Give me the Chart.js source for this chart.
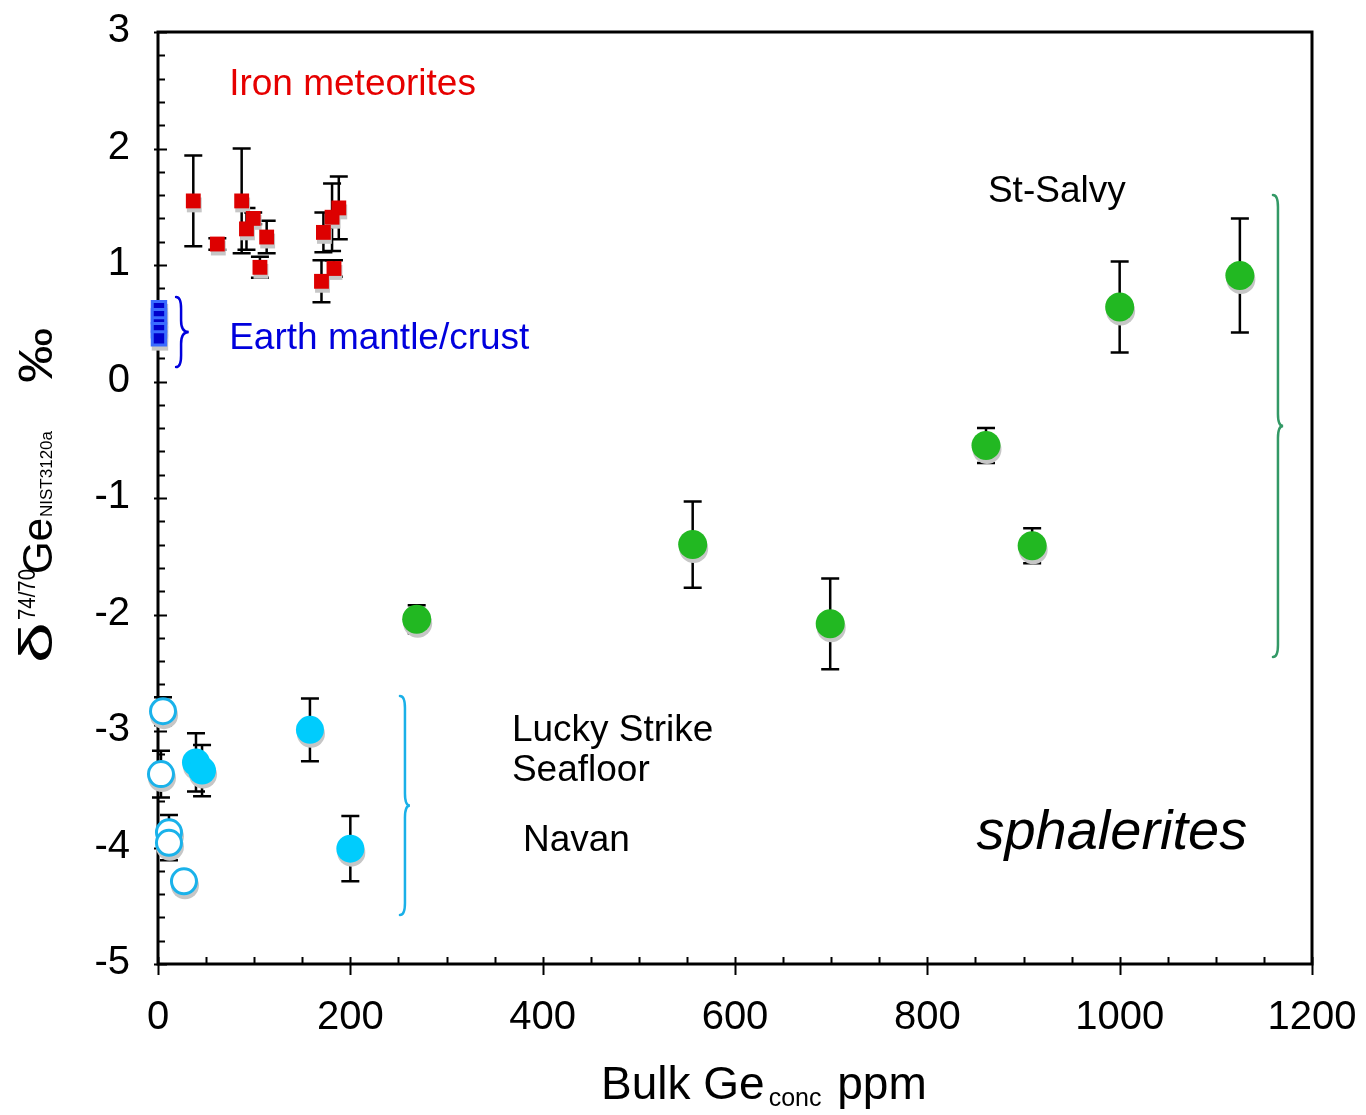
<!DOCTYPE html>
<html>
<head>
<meta charset="utf-8">
<script src="https://cdn.jsdelivr.net/npm/chart.js@4.4.1/dist/chart.umd.min.js"></script>
<style>
  body { margin: 0; background: #fff; }
  canvas { display: block; }
</style>
</head>
<body>
<canvas id="myChart" width="1366" height="1115"></canvas>
<script>
const FONT = '"Liberation Sans", Arial, Helvetica, sans-serif';

// axis ticks
const xTicks = [0, 200, 400, 600, 800, 1000, 1200];
const yTicks = [3, 2, 1, 0, -1, -2, -3, -4, -5];

// Iron meteorites
const ironX = [36.7, 61.7, 87, 99, 92, 113, 106, 170, 172, 181, 183, 188];
const ironY = [1.55, 1.18, 1.55, 1.40, 1.31, 1.24, 0.98, 0.86, 1.28, 1.41, 0.97, 1.49];
const ironErr = [0.39, 0.05, 0.45, 0.05, 0.18, 0.14, 0.09, 0.18, 0.17, 0.29, 0.07, 0.27];

// Earth mantle / crust
const mantleX = [1, 1, 1, 1, 1];
const mantleY = [0.63, 0.56, 0.49, 0.44, 0.37];

// Lucky Strike / Seafloor (open) and Navan (filled)
const openX = [5.2, 3.1, 11.4, 11.4, 27];
const openY = [-2.83, -3.37, -3.87, -3.96, -4.29];
const openErr = [0.12, 0.2, 0.15, 0.15, 0];
const navanX = [39.5, 45.8, 158, 200];
const navanY = [-3.27, -3.34, -2.99, -4.01];
const navanErr = [0.25, 0.22, 0.27, 0.28];

// St-Salvy
const salvyX = [269, 556, 699, 861, 909, 1000, 1125];
const salvyY = [-2.04, -1.40, -2.08, -0.55, -1.41, 0.64, 0.91];
const salvyErr = [0.12, 0.37, 0.39, 0.15, 0.15, 0.39, 0.49];

function pts(xs, ys) {
  return xs.map((v, i) => ({x: v, y: ys[i]}));
}

// annotations (data coordinates)
const notes = [
  {text: 'Iron meteorites', x: 74, y: 2.46, size: 37, color: '#e60000'},
  {text: 'Earth mantle/crust', x: 74, y: 0.28, size: 37, color: '#0000dd'},
  {text: 'St-Salvy', x: 863, y: 1.54, size: 37, color: '#000'},
  {text: 'Lucky Strike', x: 368, y: -3.09, size: 37, color: '#000'},
  {text: 'Seafloor', x: 368, y: -3.43, size: 37, color: '#000'},
  {text: 'Navan', x: 379.5, y: -4.03, size: 37, color: '#000'},
  {text: 'sphalerites', x: 851, y: -4.01, size: 56, color: '#000', italic: true}
];
const braces = [
  {x: 24, tip: 32, top: 0.725, bottom: 0.124, color: '#0000dd'},
  {x: 256.8, tip: 262, top: -2.70, bottom: -4.58, color: '#1ab0e8'},
  {x: 1164.6, tip: 1170, top: 1.60, bottom: -2.365, color: '#339966'}
];

const axesPlugin = {
  id: 'axes',
  beforeDatasetsDraw(chart) {
    const {ctx, chartArea: a, scales: {x, y}} = chart;
    ctx.save();
    ctx.strokeStyle = '#000';
    ctx.lineWidth = 3;
    ctx.strokeRect(a.left, a.top, a.right - a.left, a.bottom - a.top);
    ctx.lineWidth = 2;
    ctx.beginPath();
    for (let i = 0; i <= 24; i++) {
      const px = Math.round(x.getPixelForValue(i * 50)) + 0.5;
      if (i % 4 === 0) {
        ctx.moveTo(px, a.bottom - 7);
        ctx.lineTo(px, a.bottom + 11);
      } else {
        ctx.moveTo(px, a.bottom - 7);
        ctx.lineTo(px, a.bottom);
      }
    }
    for (let i = 0; i <= 40; i++) {
      const py = Math.round(y.getPixelForValue(-5 + i * 0.2)) + 0.5;
      if (i % 5 === 0) {
        ctx.moveTo(a.left - 4, py);
        ctx.lineTo(a.left + 9, py);
      } else {
        ctx.moveTo(a.left, py);
        ctx.lineTo(a.left + 7, py);
      }
    }
    ctx.stroke();

    ctx.fillStyle = '#000';
    ctx.font = '40px ' + FONT;
    ctx.textAlign = 'center';
    ctx.textBaseline = 'alphabetic';
    xTicks.forEach(v => ctx.fillText(String(v), x.getPixelForValue(v), 1029));
    ctx.textAlign = 'right';
    yTicks.forEach(v => ctx.fillText(String(v), 130, y.getPixelForValue(v) + 10));
    ctx.restore();

    // error bars
    ctx.save();
    ctx.strokeStyle = '#000';
    ctx.lineWidth = 2.5;
    chart.data.datasets.forEach((ds, di) => {
      if (!ds.errors) return;
      const meta = chart.getDatasetMeta(di);
      ds.data.forEach((p, j) => {
        const e = ds.errors[j];
        if (!e) return;
        const px = meta.data[j].x;
        const y1 = y.getPixelForValue(p.y + e);
        const y2 = y.getPixelForValue(p.y - e);
        ctx.beginPath();
        ctx.moveTo(px, y1); ctx.lineTo(px, y2);
        ctx.moveTo(px - 9, y1); ctx.lineTo(px + 9, y1);
        ctx.moveTo(px - 9, y2); ctx.lineTo(px + 9, y2);
        ctx.stroke();
      });
    });
    ctx.restore();
  },
  beforeDatasetDraw(chart, args) {
    const ctx = chart.ctx;
    const ds = chart.data.datasets[args.index];
    ctx.save();
    ctx.fillStyle = '#c6c6c6';
    args.meta.data.forEach(el => {
      const r = ds.pointRadius + (ds.borderWidth || 0) / 2;
      ctx.beginPath();
      if (ds.pointStyle === 'rect') {
        const s = Math.SQRT1_2 * ds.pointRadius + (ds.borderWidth || 0) / 2;
        ctx.rect(el.x + 1 - s, el.y + 4 - s, 2 * s, 2 * s);
      } else {
        ctx.arc(el.x + 1, el.y + 4, r, 0, Math.PI * 2);
      }
      ctx.fill();
    });
    ctx.restore();
  },
  afterDatasetsDraw(chart) {
    const {ctx, scales: {x, y}} = chart;
    ctx.save();
    ctx.textAlign = 'left';
    ctx.textBaseline = 'alphabetic';
    notes.forEach(n => {
      ctx.fillStyle = n.color;
      ctx.font = (n.italic ? 'italic ' : '') + n.size + 'px ' + FONT;
      ctx.fillText(n.text, x.getPixelForValue(n.x), y.getPixelForValue(n.y));
    });

    ctx.lineWidth = 2.5;
    ctx.lineCap = 'round';
    braces.forEach(b => {
      const xb = x.getPixelForValue(b.x);
      const xt = x.getPixelForValue(b.tip);
      const yt = y.getPixelForValue(b.top);
      const yb = y.getPixelForValue(b.bottom);
      const ym = (yt + yb) / 2;
      const k = Math.min(12, (yb - yt) / 6);
      ctx.strokeStyle = b.color;
      ctx.beginPath();
      ctx.moveTo(xb - 5, yt);
      ctx.quadraticCurveTo(xb, yt, xb, yt + k);
      ctx.lineTo(xb, ym - k);
      ctx.quadraticCurveTo(xb, ym, xt, ym);
      ctx.quadraticCurveTo(xb, ym, xb, ym + k);
      ctx.lineTo(xb, yb - k);
      ctx.quadraticCurveTo(xb, yb, xb - 5, yb);
      ctx.stroke();
    });

    // x title
    ctx.fillStyle = '#000';
    let cx = 601;
    ctx.font = '46px ' + FONT;
    ctx.fillText('Bulk Ge', cx, 1099);
    cx += ctx.measureText('Bulk Ge').width + 4;
    ctx.font = '25px ' + FONT;
    ctx.fillText('conc', cx, 1106);
    cx += ctx.measureText('conc').width + 3;
    ctx.font = '46px ' + FONT;
    ctx.fillText(' ppm', cx, 1099);

    // y title (rotated)
    ctx.translate(52, 0);
    ctx.rotate(-Math.PI / 2);
    const segs = [
      {t: '\u03b4', size: 46, start: 663, dv: 0, stretch: 1.6},
      {t: '74/70', size: 24, start: 620, dv: -17, stretch: 0.85},
      {t: 'Ge', size: 42, start: 574, dv: 0, stretch: 1},
      {t: 'NIST3120a', size: 17, start: 517, dv: 0, stretch: 1},
      {t: '\u2030', size: 48, start: 383, dv: 0, stretch: 1.15}
    ];
    segs.forEach(s => {
      ctx.save();
      ctx.font = s.size + 'px ' + FONT;
      ctx.translate(-s.start, s.dv);
      ctx.scale(s.stretch, 1);
      ctx.fillText(s.t, 0, 0);
      ctx.restore();
    });
    ctx.restore();
  }
};

const config = {
  type: 'scatter',
  data: {
    datasets: [
      {
        label: 'Earth mantle/crust', data: pts(mantleX, mantleY),
        pointStyle: 'rect', pointRadius: 9.5, borderWidth: 3,
        backgroundColor: '#0000cc', borderColor: '#3a6cff', clip: false
      },
      {
        label: 'Iron meteorites', data: pts(ironX, ironY), errors: ironErr,
        pointStyle: 'rect', pointRadius: 10.5, borderWidth: 0,
        backgroundColor: '#dd0000', clip: false
      },
      {
        label: 'Lucky Strike', data: pts(openX, openY), errors: openErr,
        pointStyle: 'circle', pointRadius: 12.5, borderWidth: 3,
        backgroundColor: '#ffffff', borderColor: '#1ab2ea', clip: false
      },
      {
        label: 'Navan', data: pts(navanX, navanY), errors: navanErr,
        pointStyle: 'circle', pointRadius: 14, borderWidth: 0,
        backgroundColor: '#00ccfd', clip: false
      },
      {
        label: 'St-Salvy', data: pts(salvyX, salvyY), errors: salvyErr,
        pointStyle: 'circle', pointRadius: 14.5, borderWidth: 0,
        backgroundColor: '#22b822', clip: false
      }
    ]
  },
  options: {
    responsive: false,
    animation: false,
    devicePixelRatio: 1,
    layout: {padding: {left: 158, right: 54, top: 32, bottom: 151}},
    plugins: {legend: {display: false}, tooltip: {enabled: false}},
    elements: {point: {hoverRadius: 0}},
    scales: {
      x: {type: 'linear', min: 0, max: 1200, display: false},
      y: {type: 'linear', min: -5, max: 3, display: false}
    }
  },
  plugins: [axesPlugin]
};

new Chart(document.querySelector('#myChart'), config);
</script>
</body>
</html>
